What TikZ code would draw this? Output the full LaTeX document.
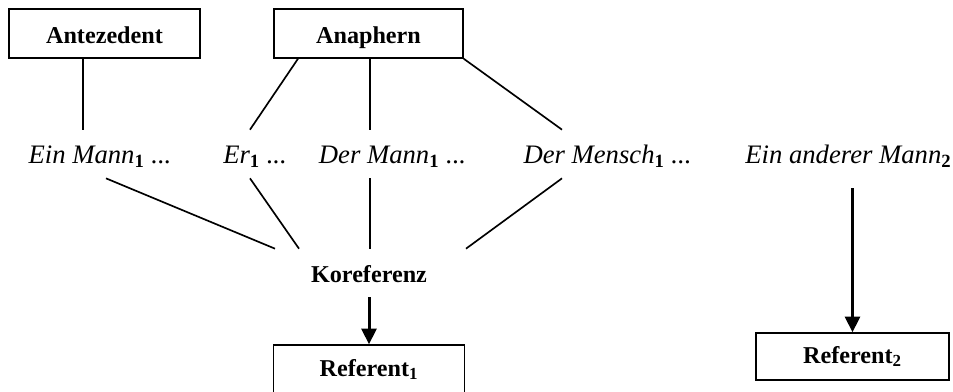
\documentclass[tikz,border=0pt]{standalone}
\usepackage{fontspec}
\setmainfont{Liberation Serif}
\usetikzlibrary{arrows.meta,positioning,calc}
\newcommand{\idx}[1]{\textsubscript{\normalfont\bfseries #1}}

\begin{document}
\begin{tikzpicture}[
  x=0.6pt,y=-0.6pt,
  box/.style={draw,line width=0.9pt,minimum width=114.6pt,minimum height=29.4pt,font=\fontsize{14.5pt}{17pt}\selectfont\bfseries,inner sep=0pt},
  top/.style={box,text height=11.6pt,text depth=0pt},
  word/.style={font=\fontsize{16pt}{19pt}\selectfont\itshape,anchor=base,text height=12pt,text depth=1.2pt,inner ysep=7.8pt,inner xsep=0pt},
  ln/.style={line width=1pt},
  arr/.style={-{Triangle[length=9.4pt,width=9pt]},line width=1.8pt}
]
  \useasboundingbox (0,0) rectangle (953,391);
  % boxes
  \node[top] (ant) at (104.5,33.5) {Antezedent};
  \node[top,minimum width=113.4pt] (ana) at (368.5,33.5) {Anaphern};
  \node[box] (ref1) at (369,369.5) {Referent\idx{1}};
  \node[box,minimum width=115.8pt,minimum height=28.2pt] (ref2) at (852.5,356.5) {Referent\idx{2}};
  % expressions
  \node[word] (m1) at (100,163) {Ein Mann\idx{1} ...};
  \node[word] (er) at (255,163) {Er\idx{1} ...};
  \node[word] (dm) at (392.5,163) {Der Mann\idx{1} ...};
  \node[word] (dme) at (607.5,163) {Der Mensch\idx{1} ...};
  \node[word,anchor=base west] (em2) at (745,163) {Ein anderer Mann\idx{2}};
  \node[word,font=\fontsize{14.5pt}{17pt}\selectfont\bfseries] (kor) at (369,282) {Koreferenz};
  % lines
  \draw[ln] ($(ant.south)+(-21.5,0)$) -- ($(m1.north)+(-17,0)$);
  \draw[ln] ($(ana.south)+(-70.5,0)$) -- ($(er.north)+(-5,0)$);
  \draw[ln] ($(ana.south)+(1.5,0)$) -- ($(dm.north)+(-22.5,0)$);
  \draw[ln] (ana.south east) -- ($(dme.north)+(-45.5,0)$);
  \draw[ln] ($(m1.south)+(6,0)$) -- ($(kor.north)+(-94,0)$);
  \draw[ln] ($(er.south)+(-5,0)$) -- ($(kor.north)+(-70,0)$);
  \draw[ln] ($(dm.south)+(-22.5,0)$) -- ($(kor.north)+(1,0)$);
  \draw[ln] ($(dme.south)+(-45.5,0)$) -- ($(kor.north)+(97,0)$);
  % arrows
  \draw[arr] (kor.south) -- (ref1.north);
  \draw[arr] ($(em2.south -| ref2.north)+(0,10)$) -- (ref2.north);
\end{tikzpicture}
\end{document}
